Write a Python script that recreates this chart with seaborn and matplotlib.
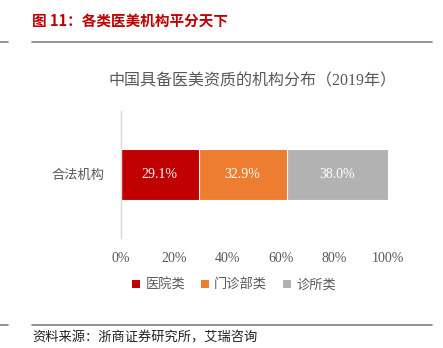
import matplotlib
matplotlib.use("Agg")
import matplotlib.pyplot as plt
from matplotlib.lines import Line2D
from matplotlib.patches import Patch
import seaborn as sns
import pandas as pd
import numpy as np

# ---- data ----
category = ["合法机构"]
series_names = ["医院类", "门诊部类", "诊所类"]
series_values = [29.1, 32.9, 38.0]
series_colors = ["#C00000", "#ED7D31", "#B2B2B2"]
xtick_values = [0, 20, 40, 60, 80, 100]
xtick_labels = ["0%", "20%", "40%", "60%", "80%", "100%"]
fig_title = "图 11：各类医美机构平分天下"
chart_title = "中国具备医美资质的机构分布（2019年）"
source_text = "资料来源：浙商证券研究所，艾瑞咨询"

sns.set_style("white")
plt.rcParams['font.family'] = ['Liberation Serif', 'Noto Sans CJK SC']

fig = plt.figure(figsize=(4.43, 3.48), dpi=100)
ax = fig.add_axes([121/443, 1-238/348, 267/443, 127/348])

cum = np.cumsum(series_values)
starts = cum - np.array(series_values)
# draw from the largest cumulative to smallest so they stack visually
for name, c, color in reversed(list(zip(series_names, cum, series_colors))):
    df = pd.DataFrame({"cat": category, "val": [c]})
    sns.barplot(data=df, x="val", y="cat", color=color, width=0.4,
                edgecolor="white", linewidth=0.8, ax=ax, saturation=1)

for s, v in zip(starts, series_values):
    ax.text(s + v/2, 0, f"{v:.1f}%", ha="center", va="center",
            color="white", fontsize=10, family=['Liberation Serif'])

ax.set_xlim(0, 100)
ax.set_ylim(0.5, -0.5)
ax.set_xticks(xtick_values)
ax.set_xticklabels(xtick_labels)
ax.set_xlabel("")
ax.set_ylabel("")
ax.tick_params(axis="x", length=0, pad=10, labelsize=10, colors="#595959")
ax.tick_params(axis="y", length=0, pad=12, labelsize=9.5, colors="#595959")
for sp in ["top", "right", "bottom"]:
    ax.spines[sp].set_visible(False)
ax.spines["left"].set_color("#D9D9D9")
ax.spines["left"].set_linewidth(1.0)

# header
fig.text(32/443, 1-21/348, fig_title, color="#C00000", fontsize=10.5,
         fontweight="bold", family=['Noto Sans CJK SC'], va="center", ha="left")
for y in [1-42/348, 1-325/348]:
    fig.add_artist(Line2D([0, 8/443], [y, y], color="#7F7F7F", lw=1.2))
    fig.add_artist(Line2D([32/443, 432/443], [y, y], color="#7F7F7F", lw=1.2))

fig.text(252/443, 1-81/348, chart_title, color="#595959", fontsize=11.5,
         ha="center", va="center")

handles = [Patch(facecolor=c, edgecolor="none", label=n)
           for n, c in zip(series_names, series_colors)]
leg = fig.legend(handles=handles, loc="center", bbox_to_anchor=(234/443, 1-285/348),
                 ncol=3, frameon=False, fontsize=9.5, handlelength=0.6,
                 handleheight=0.6, handletextpad=0.4, columnspacing=1.2)
for t in leg.get_texts():
    t.set_color("#595959")

fig.text(32/443, 1-338/348, source_text, color="#222222", fontsize=9.5,
         ha="left", va="center")

fig.savefig("out.png", dpi=100)
